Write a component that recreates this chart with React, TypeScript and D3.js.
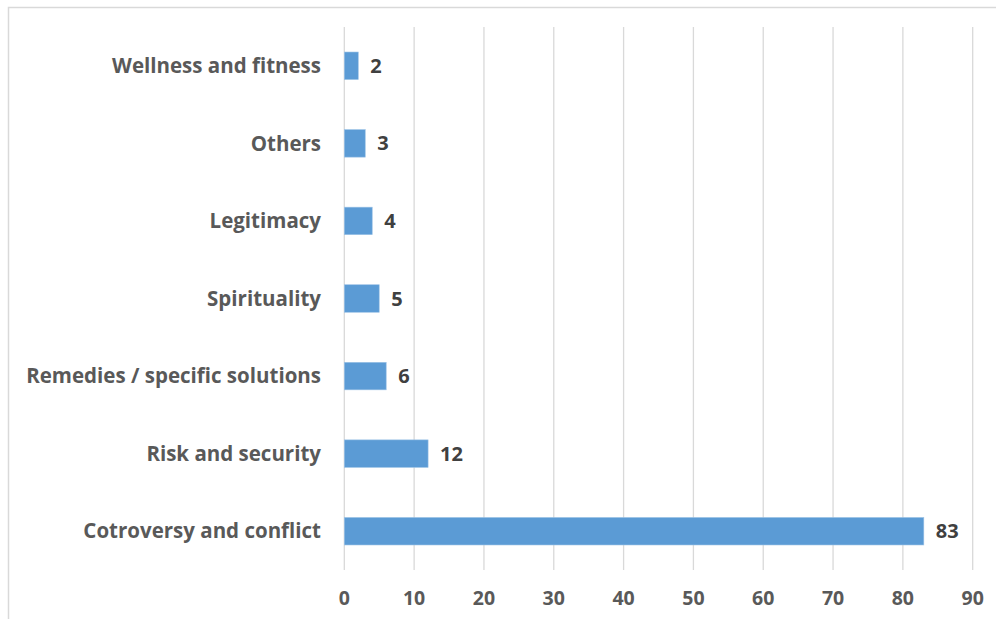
import React, { useEffect, useRef } from "react";
import * as d3 from "d3";

const categories = [
  "Wellness and fitness",
  "Others",
  "Legitimacy",
  "Spirituality",
  "Remedies / specific solutions",
  "Risk and security",
  "Cotroversy and conflict",
];
const values = [2, 3, 4, 5, 6, 12, 83];
const xTicks = [0, 10, 20, 30, 40, 50, 60, 70, 80, 90];

const W = 996;
const H = 619;
const FONT = "'Open Sans', sans-serif";

export default function App() {
  const ref = useRef<SVGSVGElement>(null);
  useEffect(() => {
    const svg = d3.select(ref.current);
    svg.selectAll("*").remove();
    const left = 344.3, right = 972.7, top = 27, bottom = 570;
    const x = d3.scaleLinear().domain([0, 90]).range([left, right]);
    const y = d3.scaleBand().domain(categories).range([top, bottom]).paddingInner(0.645).paddingOuter(0.3225);

    svg.append("rect").attr("x", 0).attr("y", 0).attr("width", W).attr("height", H).attr("fill", "#fff");
    svg.append("rect").attr("x", 8.5).attr("y", 7.5).attr("width", W + 20).attr("height", H + 20)
      .attr("fill", "none").attr("stroke", "#d9d9d9").attr("stroke-width", 1.5);

    svg.append("g").selectAll("line").data(xTicks).join("line")
      .attr("x1", d => x(d)).attr("x2", d => x(d))
      .attr("y1", top).attr("y2", bottom)
      .attr("stroke", "#d9d9d9").attr("stroke-width", 1.3);

    svg.append("g").selectAll("rect").data(values).join("rect")
      .attr("x", x(0))
      .attr("y", (_, i) => y(categories[i])!)
      .attr("width", d => x(d) - x(0))
      .attr("height", y.bandwidth())
      .attr("fill", "#5b9bd5")
      .attr("stroke", "#9dc3e6").attr("stroke-width", 0.6);

    svg.append("g").selectAll("text").data(values).join("text")
      .attr("x", d => x(d) + 12)
      .attr("y", (_, i) => y(categories[i])! + y.bandwidth() / 2)
      .attr("dy", "0.35em")
      .attr("font-family", FONT).attr("font-weight", 700).attr("font-size", 20)
      .attr("fill", "#404040")
      .text(d => String(d));

    svg.append("g").selectAll("text").data(categories).join("text")
      .attr("x", 321)
      .attr("y", d => y(d)! + y.bandwidth() / 2)
      .attr("dy", "0.35em")
      .attr("text-anchor", "end")
      .attr("font-family", FONT).attr("font-weight", 700).attr("font-size", 20.5)
      .attr("fill", "#595959")
      .text(d => d);

    svg.append("g").selectAll("text").data(xTicks).join("text")
      .attr("x", d => x(d))
      .attr("y", 598)
      .attr("dy", "0.35em")
      .attr("text-anchor", "middle")
      .attr("font-family", FONT).attr("font-weight", 700).attr("font-size", 19.5)
      .attr("fill", "#595959")
      .text(d => String(d));
  }, []);
  return (
    <svg ref={ref} width={W} height={H} style={{ position: "absolute", left: 0, top: 0, display: "block" }} />
  );
}
